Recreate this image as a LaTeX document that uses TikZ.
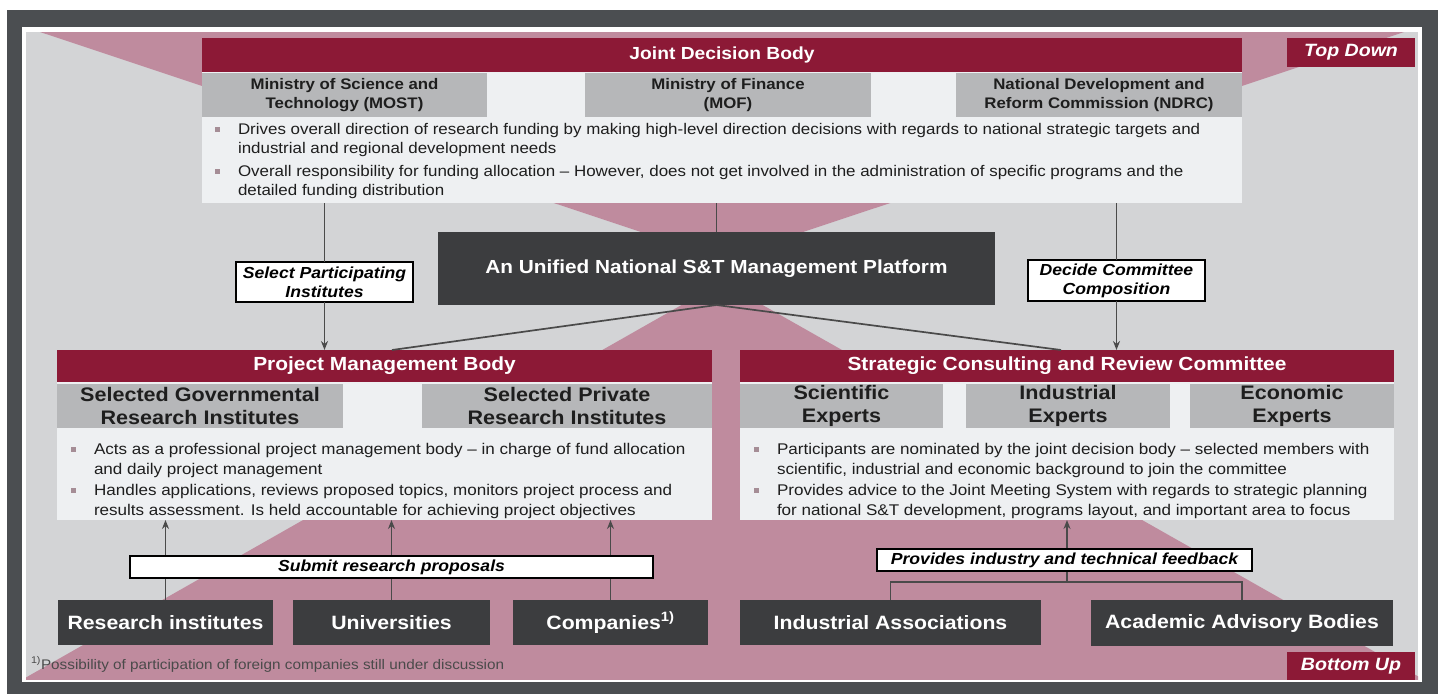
\documentclass[tikz,border=0pt]{standalone}
\usepackage{fontspec}
\setmainfont{Liberation Sans}[FakeStretch=1.1]
\usetikzlibrary{arrows.meta}
\definecolor{framec}{HTML}{4B4E51}
\definecolor{bgc}{HTML}{D3D4D6}
\definecolor{pinkc}{HTML}{BF8B9E}
\definecolor{redc}{HTML}{8C1936}
\definecolor{subc}{HTML}{B6B7B9}
\definecolor{lightc}{HTML}{EEF0F2}
\definecolor{darkc}{HTML}{3C3D3F}
\definecolor{bulc}{HTML}{A58D96}
\definecolor{linec}{HTML}{4A4A4A}
\definecolor{txtc}{HTML}{1E1E1E}
\definecolor{footc}{HTML}{4A4A4A}
\tikzset{
  every node/.style={inner sep=0pt, outer sep=0pt},
  redhead/.style={fill=redc, text=white, anchor=north west, font=\fontsize{19}{22}\selectfont\bfseries},
  lightbox/.style={fill=lightc, anchor=north west},
  subbox/.style={fill=subc, anchor=north west, align=center, text=txtc},
  darkbox/.style={fill=darkc, text=white, anchor=north west, font=\fontsize{19.3}{23}\selectfont\bfseries},
  labelbox/.style={fill=white, draw=black, line width=1.2pt, align=center, text=black, font=\fontsize{16}{19}\selectfont\bfseries\itshape},
  tagbox/.style={fill=redc, text=white, anchor=north west, font=\fontsize{17.8}{20}\selectfont\bfseries\itshape},
  bodyline/.style={anchor=base west, text=txtc, font=\fontsize{15.4}{18}\selectfont},
  pbodyline/.style={anchor=base west, text=txtc, font=\fontsize{15.5}{18}\selectfont},
  bulletsq/.style={fill=bulc, minimum width=5pt, minimum height=5pt},
  conn/.style={draw=linec, line width=1.7pt},
  arr/.style={conn, -{Stealth[length=9pt,width=7pt]}},
}
\begin{document}
\begin{tikzpicture}[x=1pt,y=-1pt]
\useasboundingbox (0,0) rectangle (1446,694);
% frame and background
\fill[white] (0,0) rectangle (1446,694);
\fill[framec] (7,10) rectangle (1438,694);
\fill[white] (22,27) rectangle (1422,682);
\fill[bgc] (26,32) rectangle (1418,679);
\begin{scope}
\clip (26,32) rectangle (1418,679);
\fill[pinkc] (40,32) -- (1404,32) -- (722,259) -- cycle;
\fill[pinkc] (722,282) -- (1428,682) -- (18,682) -- cycle;
\end{scope}

% Joint decision body
\node[lightbox, minimum width=1040pt, minimum height=131pt] (jdbb) at (202,72) {};
\node[redhead, minimum width=1040pt, minimum height=34pt, font=\fontsize{17.5}{21}\selectfont\bfseries] (jdbh) at (202,38) {Joint Decision Body};
\node[subbox, minimum width=285pt, minimum height=44pt, font=\fontsize{15.3}{19}\selectfont\bfseries] (most) at (202,73) {Ministry of Science and\\Technology (MOST)};
\node[subbox, minimum width=286pt, minimum height=44pt, font=\fontsize{15.3}{19}\selectfont\bfseries] (mof) at (585,73) {Ministry of Finance\\(MOF)};
\node[subbox, minimum width=286pt, minimum height=44pt, font=\fontsize{15.3}{19}\selectfont\bfseries] (ndrc) at (956,73) {National Development and\\Reform Commission (NDRC)};
\node[bulletsq] (jb1) at (217,129) {};
\node[bodyline] (jt1) at (238,134) {Drives overall direction of research funding by making high-level direction decisions with regards to national strategic targets and};
\node[bodyline] (jt2) at (238,153) {industrial and regional development needs};
\node[bulletsq] (jb2) at (217,171) {};
\node[bodyline] (jt3) at (238,176) {Overall responsibility for funding allocation -- However, does not get involved in the administration of specific programs and the};
\node[bodyline] (jt4) at (238,195) {detailed funding distribution};

% platform
\node[fill=darkc, text=white, anchor=north west, minimum width=557pt, minimum height=73pt, font=\fontsize{18.9}{23}\selectfont\bfseries] (plat) at (438,232) {An Unified National S\&T Management Platform};

% Project management body
\node[lightbox, minimum width=655pt, minimum height=138pt] (pmbb) at (57,382) {};
\node[redhead, minimum width=655pt, minimum height=32pt] (pmbh) at (57,350) {Project Management Body};
\node[subbox, minimum width=286pt, minimum height=44pt, font=\fontsize{19.6}{23}\selectfont\bfseries] (sgri) at (57,384) {Selected Governmental\\Research Institutes};
\node[subbox, minimum width=290pt, minimum height=44pt, font=\fontsize{19.6}{23}\selectfont\bfseries] (spri) at (422,384) {Selected Private\\Research Institutes};
\node[bulletsq] (pb1) at (73,449) {};
\node[pbodyline] (pt1) at (94,454) {Acts as a professional project management body -- in charge of fund allocation};
\node[pbodyline] (pt2) at (94,474) {and daily project management};
\node[bulletsq] (pb2) at (73,490) {};
\node[pbodyline] (pt3) at (94,495) {Handles applications, reviews proposed topics, monitors project process and};
\node[pbodyline] (pt4) at (94,515) {results assessment. Is held accountable for achieving project objectives};

% Strategic consulting and review committee
\node[lightbox, minimum width=654pt, minimum height=138pt] (scrcb) at (740,382) {};
\node[redhead, minimum width=654pt, minimum height=32pt] (scrch) at (740,350) {Strategic Consulting and Review Committee};
\node[subbox, minimum width=203pt, minimum height=44pt, font=\fontsize{19.6}{23}\selectfont\bfseries] (sci) at (740,384) {Scientific\\Experts};
\node[subbox, minimum width=204pt, minimum height=44pt, font=\fontsize{19.6}{23}\selectfont\bfseries] (ind) at (966,384) {Industrial\\Experts};
\node[subbox, minimum width=204pt, minimum height=44pt, font=\fontsize{19.6}{23}\selectfont\bfseries] (eco) at (1190,384) {Economic\\Experts};
\node[bulletsq] (sb1) at (756,449) {};
\node[pbodyline] (st1) at (777,454) {Participants are nominated by the joint decision body -- selected members with};
\node[pbodyline] (st2) at (777,474) {scientific, industrial and economic background to join the committee};
\node[bulletsq] (sb2) at (756,490) {};
\node[pbodyline] (st3) at (777,495) {Provides advice to the Joint Meeting System with regards to strategic planning};
\node[pbodyline] (st4) at (777,515) {for national S\&T development, programs layout, and important area to focus};

% bottom boxes
\node[darkbox, minimum width=215pt, minimum height=45pt] (ri) at (58,600) {Research institutes};
\node[darkbox, minimum width=197pt, minimum height=45pt] (uni) at (293,600) {Universities};
\node[darkbox, minimum width=195pt, minimum height=45pt] (com) at (513,600) {Companies\textsuperscript{1)}};
\node[darkbox, minimum width=301pt, minimum height=45pt] (ia) at (740,600) {Industrial Associations};
\node[darkbox, minimum width=302pt, minimum height=46pt] (aab) at (1091,600) {Academic Advisory Bodies};

% tags
\node[tagbox, minimum width=128pt, minimum height=29pt] (td) at (1287,38) {Top Down};
\node[tagbox, minimum width=128pt, minimum height=28pt] (bu) at (1287,652) {Bottom Up};

% footnote
\node[anchor=base west, text=footc, font=\fontsize{13.9}{15}\selectfont] (fn) at (31,669) {\textsuperscript{1)}Possibility of participation of foreign companies still under discussion};

% connectors
\node[labelbox, minimum width=177pt, minimum height=40pt] (spl) at (324.5,282) {Select Participating\\Institutes};
\node[labelbox, minimum width=177pt, minimum height=41pt] (dcc) at (1116.5,280.5) {Decide Committee\\Composition};
\draw[conn] (jdbb.south -| spl.center) -- (spl.north);
\draw[arr] (spl.south) -- (spl.south |- pmbh.north);
\draw[conn] (jdbb.south -| dcc.center) -- (dcc.north);
\draw[arr] (dcc.south) -- (dcc.south |- scrch.north);
\draw[conn] (jdbb.south -| plat.north) -- (plat.north);
\draw[conn] (plat.south) -- ([xshift=335pt]pmbh.north west);
\draw[conn] (plat.south) -- ([xshift=321pt]scrch.north west);
\draw[arr] (ri.north) -- (ri.north |- pmbb.south);
\draw[arr] (uni.north) -- (uni.north |- pmbb.south);
\draw[arr] (com.north) -- (com.north |- pmbb.south);
\coordinate (fbj) at (1067,582);
\draw[conn] (ia.north) |- (fbj) -| (aab.north);
\draw[arr] (fbj) -- (fbj |- scrcb.south);
\node[labelbox, minimum width=523pt, minimum height=22pt] (srp) at (391.5,567) {Submit research proposals};
\node[labelbox, minimum width=375pt, minimum height=22pt] (pif) at (1064.5,560) {Provides industry and technical feedback};
\end{tikzpicture}
\end{document}
